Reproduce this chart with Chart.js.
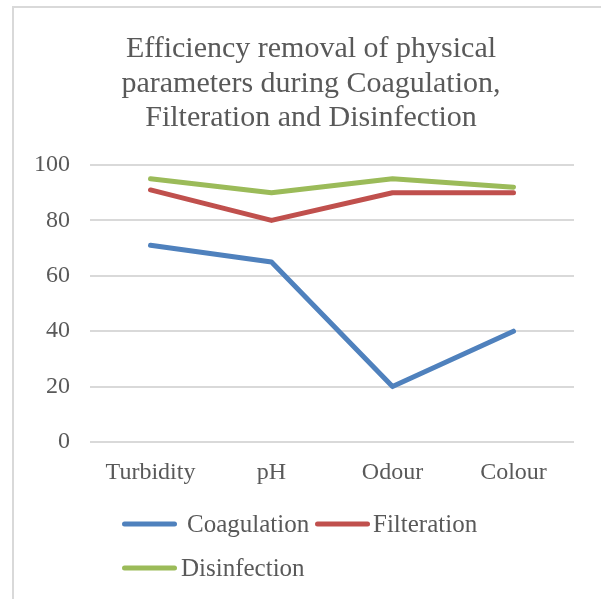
<!DOCTYPE html>
<html>
<head>
<meta charset="utf-8">
<script src="https://cdn.jsdelivr.net/npm/chart.js@4/dist/chart.umd.min.js"></script>
<style>
  html, body { margin: 0; padding: 0; background: #ffffff; }
  #frame { position: absolute; left: 12px; top: 6px; right: 0; bottom: 0;
           border-top: 2px solid #d9d9d9; border-left: 2px solid #d9d9d9; }
  #wrap { position: absolute; left: 0; top: 0; width: 601px; height: 599px; }
</style>
</head>
<body>
<div id="frame"></div>
<div id="wrap"><canvas id="c" width="601" height="599"></canvas></div>
<script>
// ---- data ----
const categories = ['Turbidity', 'pH', 'Odour', 'Colour'];
const coagulation = [71, 65, 20, 40];
const filteration = [91, 80, 90, 90];
const disinfection = [95, 90, 95, 92];
const seriesNames = ['Coagulation', 'Filteration', 'Disinfection'];
const yTicks = [0, 20, 40, 60, 80, 100];
const titleLines = ['Efficiency removal of physical', 'parameters during Coagulation,', 'Filteration and Disinfection'];

const colors = ['#4F81BD', '#C0504D', '#9BBB59'];
const textColor = '#595959';
const serif = "'Liberation Serif', 'Times New Roman', serif";

// legend layout (positions only)
const legendLayout = [
  { x: 122, y: 524, gap: 10 },
  { x: 315, y: 524, gap: 3 },
  { x: 122, y: 568, gap: 4 }
];

const legendPlugin = {
  id: 'customLegend',
  afterLayout(chart) {
    // shift the title's horizontal centre to match the original frame
    if (chart.titleBlock) { chart.titleBlock.left += 14; }
  },
  afterDraw(chart) {
    const ctx = chart.ctx;
    ctx.save();
    chart.data.datasets.forEach((ds, i) => {
      const p = legendLayout[i];
      const lw = ds.borderWidth;
      ctx.strokeStyle = ds.borderColor;
      ctx.lineWidth = lw;
      ctx.lineCap = 'round';
      ctx.beginPath();
      ctx.moveTo(p.x + lw / 2, p.y);
      ctx.lineTo(p.x + 55 - lw / 2, p.y);
      ctx.stroke();
      ctx.fillStyle = textColor;
      ctx.font = '25px ' + serif;
      ctx.textBaseline = 'middle';
      ctx.textAlign = 'left';
      ctx.fillText(ds.label, p.x + 55 + p.gap, p.y + 1);
    });
    ctx.restore();
  }
};

const mk = (i, data) => ({
  label: seriesNames[i],
  data: data,
  borderColor: colors[i],
  backgroundColor: colors[i],
  borderWidth: 5,
  borderCapStyle: 'round',
  borderJoinStyle: 'round',
  pointRadius: 0,
  pointHoverRadius: 0,
  tension: 0,
  fill: false
});

new Chart(document.getElementById('c'), {
  type: 'line',
  data: {
    labels: categories,
    datasets: [mk(0, coagulation), mk(1, filteration), mk(2, disinfection)]
  },
  plugins: [legendPlugin],
  options: {
    responsive: false,
    animation: false,
    events: [],
    layout: { padding: { left: 34, right: 27, top: 0, bottom: 100 } },
    plugins: {
      legend: { display: false },
      tooltip: { enabled: false },
      title: {
        display: true,
        text: titleLines,
        color: textColor,
        font: { family: serif, size: 30, weight: 'normal', lineHeight: 1.15 },
        padding: { top: 32, bottom: 29.5 }
      }
    },
    scales: {
      x: {
        offset: true,
        grid: { display: false, drawTicks: false },
        border: { display: false },
        ticks: { color: textColor, font: { family: serif, size: 24 }, padding: 16 },
        afterFit(s) { s.height = 57; }
      },
      y: {
        min: 0,
        max: 100,
        afterBuildTicks(s) { s.ticks = yTicks.map(v => ({ value: v })); },
        grid: { color: '#d9d9d9', lineWidth: 2, drawTicks: false },
        border: { display: false },
        ticks: { color: textColor, font: { family: serif, size: 24 }, padding: 20 },
        afterFit(s) { s.width = 56; }
      }
    }
  }
});
</script>
</body>
</html>
